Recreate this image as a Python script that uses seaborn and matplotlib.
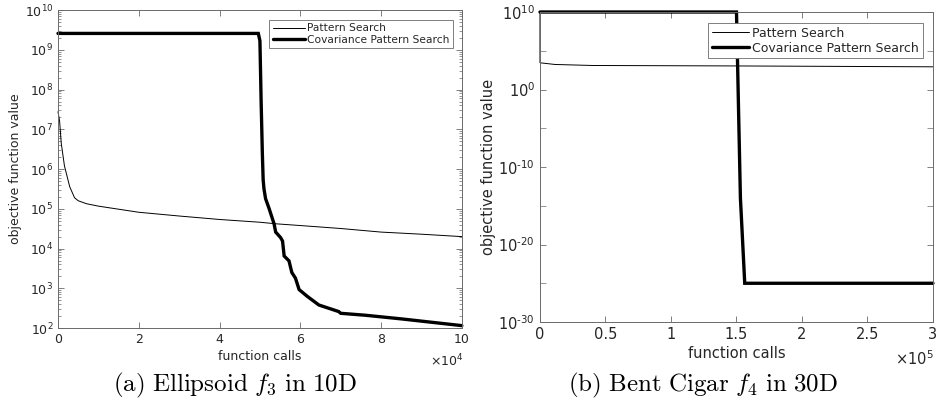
import numpy as np
import pandas as pd
import seaborn as sns
import matplotlib.pyplot as plt
from matplotlib.ticker import FixedLocator, FuncFormatter, LogLocator, NullFormatter

# (a) Ellipsoid f3 in 10D
ell_ps_calls = [0, 400, 800, 1600, 2900, 4100, 5000, 7000, 10000, 20000, 30000, 40000,
                50000, 54000, 60000, 70000, 80000, 90000, 100000]
ell_ps_values = [2.8e7, 1.6e7, 4.5e6, 1.2e6, 3.6e5, 1.9e5, 1.6e5, 1.35e5, 1.17e5, 8.2e4,
                 6.6e4, 5.4e4, 4.6e4, 4.2e4, 3.8e4, 3.2e4, 2.6e4, 2.3e4, 2.0e4]
ell_cps_calls = [0, 49600, 50000, 50300, 50600, 50800, 51000, 51400, 52300, 53500, 53900,
                 55100, 55600, 56000, 57200, 57900, 58800, 59700, 61700, 64600, 69500,
                 70000, 76100, 85000, 100000]
ell_cps_values = [2.6e9, 2.6e9, 1.7e9, 5.0e7, 2.5e6, 5.4e5, 3.2e5, 1.8e5, 1.0e5, 4.2e4,
                  2.6e4, 1.9e4, 1.55e4, 6.5e3, 4.9e3, 2.5e3, 1.8e3, 9.3e2, 6.3e2, 3.8e2,
                  2.6e2, 2.35e2, 2.1e2, 1.7e2, 1.15e2]

# (b) Bent Cigar f4 in 30D
cig_ps_calls = [0, 1, 11500, 40000, 150000, 234000, 300000]
cig_ps_values = [1e10, 2.8e3, 1.7e3, 1.26e3, 1.1e3, 0.95e3, 0.85e3]
cig_cps_calls = [0, 150000, 153000, 156300, 300000]
cig_cps_values = [1e10, 1e10, 1e-14, 1e-25, 1e-25]

series_names = ['Pattern Search', 'Covariance Pattern Search']
captions = [r'$\mathrm{(a)\ Ellipsoid\ }f_3\mathrm{\ in\ 10D}$',
            r'$\mathrm{(b)\ Bent\ Cigar\ }f_4\mathrm{\ in\ 30D}$']


def make_df(ps_x, ps_y, cps_x, cps_y):
    a = pd.DataFrame({'calls': ps_x, 'value': ps_y, 'method': series_names[0]})
    b = pd.DataFrame({'calls': cps_x, 'value': cps_y, 'method': series_names[1]})
    return pd.concat([a, b], ignore_index=True)


def log_label(v, pos):
    e = int(round(np.log10(v)))
    return r'$10^{\text{%d}}$' % e


sns.set_style('ticks')
plt.rcParams['font.family'] = ['DejaVu Sans']
plt.rcParams['mathtext.fontset'] = 'cm'
plt.rcParams['axes.unicode_minus'] = False
text_col = '#262626'
frame_col = '#6a6a6a'

fig = plt.figure(figsize=(9.37, 4.07), dpi=100)
ax1 = fig.add_axes([0.0619, 0.194, 0.431, 0.781])
ax2 = fig.add_axes([0.5763, 0.2088, 0.4194, 0.7617])

# axes, data, exponent, y limits, font size, legend font size, legend anchor, x10 label position
panels = [
    (ax1, make_df(ell_ps_calls, ell_ps_values, ell_cps_calls, ell_cps_values), 4, (1e2, 1e10),
     9, 7.7, (1 - 9 / 404, 1 - 10 / 318), (463 / 937, 1 - 361 / 407)),
    (ax2, make_df(cig_ps_calls, cig_ps_values, cig_cps_calls, cig_cps_values), 5, (1e-30, 1e10),
     10.5, 9, (1 - 10 / 393, 1 - 11 / 310), (934 / 937, 1 - 359 / 407)),
]

for ax, df, expo, ylim, fs, lfs, anchor, mult_pos in panels:
    sns.lineplot(data=df, x='calls', y='value', hue='method', size='method',
                 sizes={series_names[0]: 0.7, series_names[1]: 2.4},
                 palette={series_names[0]: 'black', series_names[1]: 'black'},
                 estimator=None, sort=False, ax=ax, legend=True)
    ax.set_yscale('log')
    ax.set_ylim(*ylim)
    ax.set_xlim(0, df['calls'].max())
    for line in ax.get_lines():
        line.set_solid_joinstyle('miter')
        line.set_clip_on(False)
    ax.set_xlabel('function calls', fontsize=fs, color=text_col, labelpad=3)
    ax.set_ylabel('objective function value', fontsize=fs, color=text_col, labelpad=2)
    ax.tick_params(direction='in', top=True, right=True, labelsize=fs,
                   colors=frame_col, labelcolor=text_col, length=4, width=0.6)
    ax.tick_params(which='minor', direction='in', top=False, right=True, length=2, width=0.5,
                   colors=frame_col)
    for s in ax.spines.values():
        s.set_visible(True)
        s.set_color(frame_col)
        s.set_linewidth(0.7)
    scale = 10 ** expo
    ax.xaxis.set_major_formatter(FuncFormatter(lambda v, p, sc=scale: f'{v / sc:g}'))
    fig.text(mult_pos[0], mult_pos[1], r'$\times10^{%d}$' % expo, ha='right', va='center',
             fontsize=fs, color=text_col, math_fontfamily='dejavusans')
    handles = ax.get_legend().legend_handles
    leg = ax.legend(handles=handles, labels=series_names, loc='upper right',
                    bbox_to_anchor=anchor, borderaxespad=0, fontsize=lfs, frameon=True,
                    fancybox=False, edgecolor=frame_col, framealpha=1, borderpad=0.3,
                    handlelength=3.0, handletextpad=0.25, labelspacing=0.15)
    leg.get_frame().set_linewidth(0.6)

ax1.set_xticks(np.arange(0, 100001, 20000))
ax1.yaxis.set_major_locator(LogLocator(base=10, numticks=20))
ax1.yaxis.set_minor_locator(LogLocator(base=10, subs=np.arange(2, 10), numticks=20))
ax1.yaxis.set_minor_formatter(NullFormatter())

ax2.set_xticks(np.arange(0, 300001, 50000))
ax2.yaxis.set_major_locator(FixedLocator([1e10, 1e0, 1e-10, 1e-20, 1e-30]))
ax2.yaxis.set_minor_locator(FixedLocator([1e5, 1e-5, 1e-15, 1e-25]))
ax2.yaxis.set_minor_formatter(NullFormatter())
ax2.tick_params(which='minor', length=4, top=False, right=True)

for ax in (ax1, ax2):
    ax.yaxis.set_major_formatter(FuncFormatter(log_label))
    for lab in ax.get_yticklabels():
        lab.set_math_fontfamily('dejavusans')

fig.text(0.2508, 0.053, captions[0], ha='center', va='center', fontsize=18, color='black')
fig.text(0.7503, 0.053, captions[1], ha='center', va='center', fontsize=18, color='black')

fig.savefig('out.png', dpi=100)
